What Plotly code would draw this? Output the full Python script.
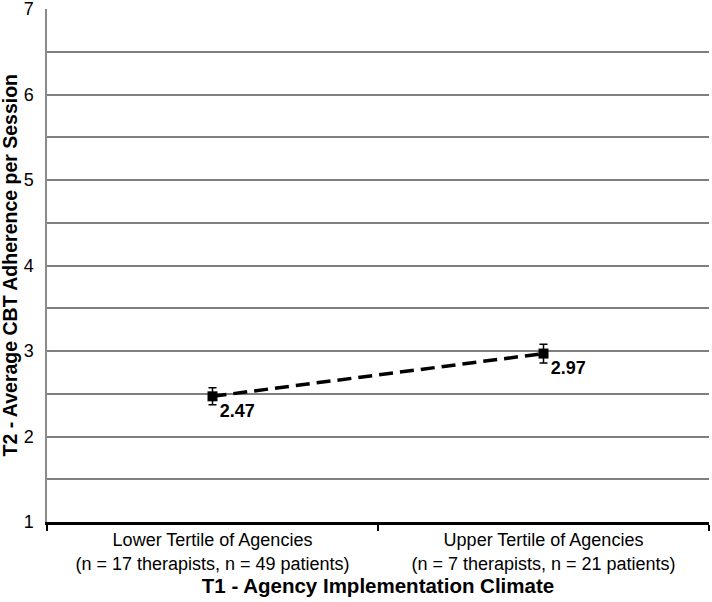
import plotly.graph_objects as go

categories = ["Lower Tertile of Agencies<br>(n = 17 therapists, n = 49 patients)",
              "Upper Tertile of Agencies<br>(n = 7 therapists, n = 21 patients)"]
adherence = [2.47, 2.97]
err = [0.1, 0.11]
value_labels = ["2.47", "2.97"]

fig = go.Figure()
fig.add_trace(go.Scatter(
    x=categories, y=adherence, mode="lines+markers+text",
    line=dict(color="black", width=3.5, dash="14px,7px"),
    marker=dict(symbol="square", size=10, color="black"),
    error_y=dict(type="data", array=err, color="black", thickness=1.5, width=4),
    text=value_labels, textposition="bottom right",
    textfont=dict(family="Liberation Sans, Arial", size=18, color="black", weight="bold"),
    showlegend=False,
))

fig.update_layout(
    width=712, height=602,
    margin=dict(l=47, r=3, t=9, b=80),
    plot_bgcolor="white", paper_bgcolor="white",
    font=dict(family="Liberation Sans, Arial", size=18, color="black"),
)
fig.update_yaxes(
    range=[1, 7], tickvals=[1, 2, 3, 4, 5, 6, 7], showgrid=True, gridcolor="#7f7f7f", gridwidth=1.5,
    minor=dict(dtick=0.5, showgrid=True, gridcolor="#7f7f7f", gridwidth=1.5),
    showline=True, linecolor="#8a8a8a", linewidth=1.5,
    ticks="outside", ticklen=8, tickcolor="rgba(0,0,0,0)",
    ticklabeloverflow="allow", zeroline=False, automargin=False,
)
fig.update_xaxes(
    range=[-0.5, 1.5], tickson="boundaries", ticks="outside", ticklen=6,
    tickcolor="black", tickwidth=2,
    showline=True, linecolor="black", linewidth=2.5, showgrid=False,
    automargin=False,
    title=dict(text="<b>T1 - Agency Implementation Climate</b>", font=dict(size=20.5), standoff=5),
)

# y title as rotated annotation, left of the tick labels
fig.add_annotation(
    text="<b>T2 - Average CBT Adherence per Session</b>", textangle=-90,
    xref="paper", yref="paper", x=0, y=0.5, xanchor="right", yanchor="middle",
    xshift=-25, showarrow=False, font=dict(size=19.5, color="black"),
)

# drop the page's default body margin so the figure sits at the window corner
fig.write_html("out.html", config={"displayModeBar": False},
               post_script="document.body.style.margin='0';")
